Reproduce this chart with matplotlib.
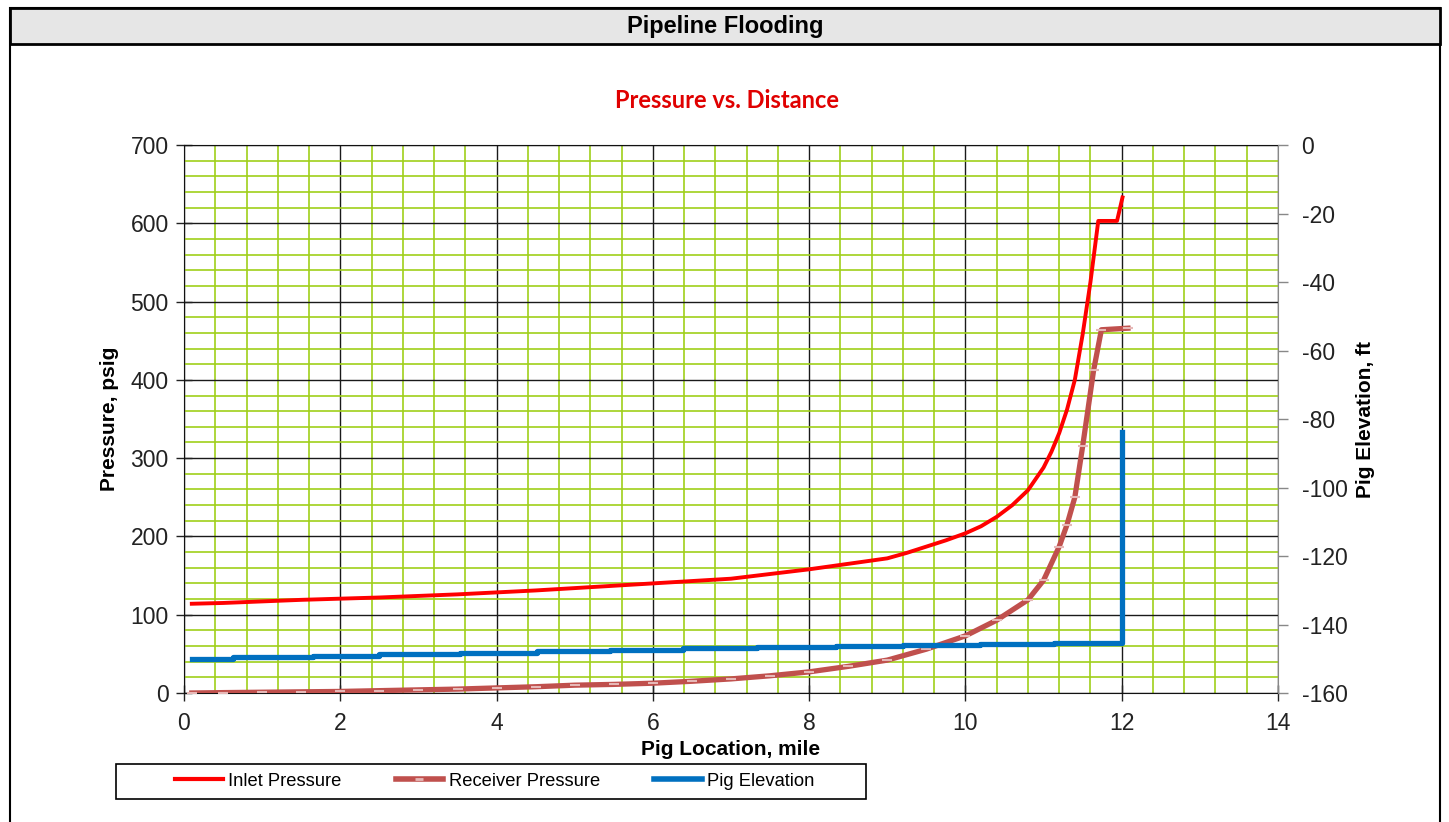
import matplotlib.pyplot as plt
from matplotlib.patches import Rectangle
from matplotlib.lines import Line2D
from matplotlib.ticker import MultipleLocator

# values
inlet_x = [0.1, 0.5, 1.0, 1.5, 2.0, 2.5, 3.0, 3.5, 4.0, 4.5, 5.0, 5.5, 6.0, 6.5, 7.0,
           7.5, 8.0, 8.5, 9.0, 9.25, 9.5, 9.75, 10.0, 10.2, 10.4, 10.6, 10.8, 11.0,
           11.1, 11.2, 11.3, 11.4, 11.5, 11.6, 11.7, 11.94, 12.01]
inlet_p = [114, 115, 117, 119, 120.5, 122, 124, 126, 128.5, 131, 134, 137, 140, 143, 146,
           152, 158, 165, 172, 179, 187, 195, 204, 213, 225, 240, 259, 288,
           308, 332, 362, 400, 458, 525, 603, 603, 633]

recv_x = [0.1, 0.5, 1.0, 1.5, 2.0, 2.5, 3.0, 3.5, 4.0, 4.5, 5.0, 5.5, 6.0, 6.5, 7.0,
          7.5, 8.0, 8.5, 9.0, 9.5, 10.0, 10.4, 10.8, 11.0, 11.2, 11.3, 11.4, 11.5,
          11.64, 11.74, 12.08]
recv_p = [0, 0.5, 1, 1.5, 2, 3, 4, 5, 6.5, 8, 10, 11, 12.5, 15, 18,
          22, 27, 34, 42, 56, 73, 93, 119, 144, 187, 215, 250, 315,
          412, 464, 466]

elev_x = [0.1, 0.63, 1.65, 2.5, 3.53, 4.52, 5.45, 6.39, 7.33, 8.35, 9.2, 10.19, 11.13,
          11.95, 12.0]
elev_ft = [-150.2, -149.6, -149.2, -148.7, -148.2, -147.8, -147.4, -147.0, -146.6,
           -146.2, -145.9, -145.6, -145.3, -145.3, -83.7]

labels = ["Inlet Pressure", "Receiver Pressure", "Pig Elevation"]

W, H = 1449, 822
RED = "#ff0000"
BROWN = "#c0504d"
PINK = "#e6b8b7"
BLUE = "#0070c0"
GREEN = "#9fcf1a"
plt.rcParams["font.family"] = ["Liberation Sans", "DejaVu Sans"]
plt.rcParams["axes.unicode_minus"] = False

fig = plt.figure(figsize=(W / 100, H / 100), dpi=100)

# outer frame and title band
fig.patches.append(Rectangle((10 / W, -0.01), 1430 / W, 1 - 8 / H + 0.01,
                             transform=fig.transFigure, fill=False, ec="black", lw=1.5))
fig.patches.append(Rectangle((10 / W, 1 - 44 / H), 1430 / W, 36 / H,
                             transform=fig.transFigure, fc="#e6e6e6", ec="black", lw=2))
fig.text(725 / W, 1 - 27 / H, "Pipeline Flooding", ha="center", va="center",
         fontsize=17, fontweight="bold",
         family=["Liberation Sans Narrow", "Liberation Sans"])
fig.text(727 / W, 1 - 100 / H, "Pressure vs. Distance", ha="center", va="center",
         fontsize=17, fontweight="bold", color="#e00000", family=["Lato", "DejaVu Sans"])

ax = fig.add_axes([184 / W, 1 - 693 / H, (1278 - 184) / W, (693 - 145) / H])
ax.set_xlim(0, 14)
ax.set_ylim(0, 700)
ax.xaxis.set_major_locator(MultipleLocator(2))
ax.xaxis.set_minor_locator(MultipleLocator(0.4))
ax.yaxis.set_major_locator(MultipleLocator(100))
ax.yaxis.set_minor_locator(MultipleLocator(20))
ax.set_axisbelow(True)
ax.grid(which="minor", color=GREEN, lw=1.2)
ax.grid(which="major", color="#1a1a1a", lw=1.0)
ax.tick_params(which="minor", length=0)
ax.tick_params(which="major", direction="inout", length=12, width=1,
               labelsize=16.5, colors="#222222")
ax.tick_params(axis="x", pad=8)
ax.tick_params(axis="y", pad=5)
for s in ["left", "bottom", "top"]:
    ax.spines[s].set_color("#111111")
ax.spines["right"].set_visible(False)

ax.plot(inlet_x, inlet_p, color=RED, lw=2.8, zorder=3)
ax.plot(recv_x, recv_p, color=BROWN, lw=3.8, marker="_", ms=7, mew=1.5,
        mec=PINK, zorder=3)

ax.set_xlabel("Pig Location, mile", fontsize=15, fontweight="bold", labelpad=3)
ax.set_ylabel("Pressure, psig", fontsize=15, fontweight="bold", labelpad=8)

ax2 = ax.twinx()
ax2.set_ylim(-160, 0)
ax2.yaxis.set_major_locator(MultipleLocator(20))
ax2.tick_params(direction="out", length=7, width=1, color="#888888",
                labelsize=16.5, pad=10, labelcolor="#222222")
for s in ["left", "bottom", "top"]:
    ax2.spines[s].set_visible(False)
ax2.spines["right"].set_color("#888888")
ax2.plot(elev_x, elev_ft, color=BLUE, lw=3.8, drawstyle="steps-post", zorder=3)
ax2.set_ylabel("Pig Elevation, ft", fontsize=15, fontweight="bold", labelpad=6)

# legend
fig.patches.append(Rectangle((116 / W, 1 - 799 / H), 750 / W, 35 / H,
                             transform=fig.transFigure, fill=False, ec="black", lw=1.2))
handles = [
    Line2D([], [], color=RED, lw=3),
    Line2D([], [], color=BROWN, lw=4, marker="_", ms=6, mew=2, mec=PINK, markevery=[1]),
    Line2D([], [], color=BLUE, lw=4),
]
fig.legend(handles, labels, loc="center left", bbox_to_anchor=(175 / W, 1 - 781 / H),
           ncol=3, frameon=False, fontsize=13.2, handlelength=2.6, handletextpad=0.3,
           columnspacing=2.95, borderpad=0, borderaxespad=0)

fig.savefig("out.png", dpi=100)
